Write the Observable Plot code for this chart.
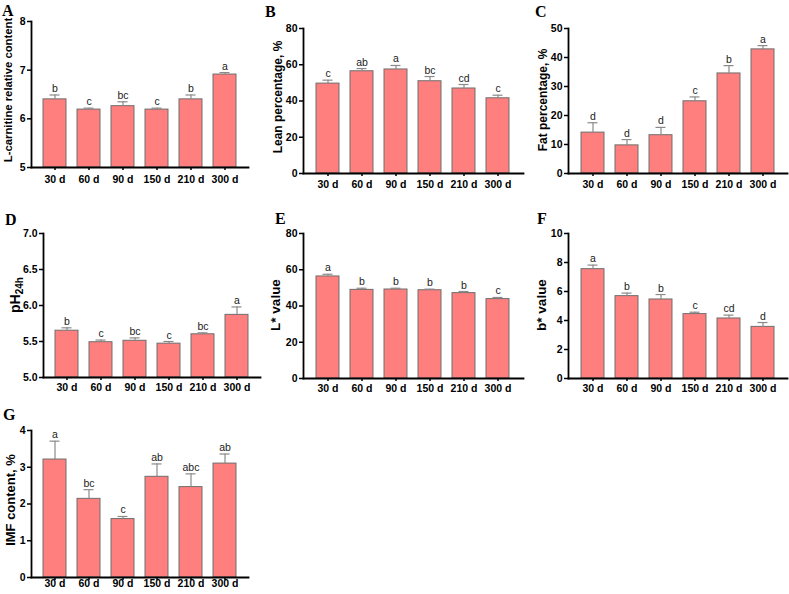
<!DOCTYPE html>
<html><head><meta charset="utf-8">
<script src="https://cdn.jsdelivr.net/npm/d3@7"></script>
<script src="https://cdn.jsdelivr.net/npm/@observablehq/plot@0.6"></script>
<style>
body{margin:0;background:#fff;}
#wrap{position:relative;width:789px;height:594px;overflow:hidden;background:#fff;}
#wrap svg{position:absolute;}
</style></head><body><div id="wrap"></div>
<script>
// ---- data ----
const days = ["30 d", "60 d", "90 d", "150 d", "210 d", "300 d"];

const lcarnitine = [6.40, 6.19, 6.26, 6.19, 6.40, 6.91];
const lcarnitineSE = [0.09, 0.03, 0.09, 0.03, 0.09, 0.04];
const lcarnitineLetters = ["b", "c", "bc", "c", "b", "a"];

const lean = [49.6, 56.4, 57.4, 50.9, 46.9, 41.5];
const leanSE = [1.9, 1.5, 2.2, 2.6, 2.2, 1.7];
const leanLetters = ["c", "ab", "a", "bc", "cd", "c"];

const fat = [14.1, 9.7, 13.2, 24.9, 34.5, 42.8];
const fatSE = [3.4, 2.0, 2.7, 1.5, 2.7, 1.3];
const fatLetters = ["d", "d", "d", "c", "b", "a"];

const ph24 = [5.65, 5.49, 5.51, 5.47, 5.60, 5.87];
const ph24SE = [0.04, 0.03, 0.04, 0.03, 0.02, 0.11];
const ph24Letters = ["b", "c", "bc", "c", "bc", "a"];

const lightness = [56.3, 48.9, 49.1, 48.7, 47.1, 43.8];
const lightnessSE = [1.2, 0.9, 0.7, 0.6, 0.9, 0.9];
const lightnessLetters = ["a", "b", "b", "b", "b", "c"];

const yellowness = [7.54, 5.68, 5.45, 4.44, 4.14, 3.56];
const yellownessSE = [0.28, 0.21, 0.34, 0.13, 0.23, 0.30];
const yellownessLetters = ["a", "b", "b", "c", "cd", "d"];

const imf = [3.21, 2.14, 1.59, 2.74, 2.46, 3.10];
const imfSE = [0.50, 0.25, 0.07, 0.35, 0.36, 0.26];
const imfLetters = ["a", "bc", "c", "ab", "abc", "ab"];

const ticksA = [5, 6, 7, 8];
const ticksB = [0, 20, 40, 60, 80];
const ticksC = [0, 10, 20, 30, 40, 50];
const ticksD = [5.0, 5.5, 6.0, 6.5, 7.0];
const ticksE = [0, 20, 40, 60, 80];
const ticksF = [0, 2, 4, 6, 8, 10];
const ticksG = [0, 1, 2, 3, 4];

// ---- panel configuration (layout) ----
const panels = [
  {tag:"A", values:lcarnitine, se:lcarnitineSE, letters:lcarnitineLetters, domain:[5,8], ticks:ticksA, fmt:d3.format("d"),
   label:"L-carnitine relative content", left:0, top:0, w:260, h:195, ml:31, mr:12, mt:21, mb:28, xpad:5, lx:8, ly:90, lfs:11.3, tx:2, ty:16},
  {tag:"B", values:lean, se:leanSE, letters:leanLetters, domain:[0,80], ticks:ticksB, fmt:d3.format("d"),
   label:"Lean percentage, %", left:260, top:0, w:265, h:195, ml:43, mr:2, mt:28, mb:22, xpad:4, lx:18, ly:97, lfs:12, tx:5, ty:17},
  {tag:"C", values:fat, se:fatSE, letters:fatLetters, domain:[0,50], ticks:ticksC, fmt:d3.format("d"),
   label:"Fat percentage, %", left:520, top:0, w:269, h:195, ml:48, mr:2, mt:28, mb:22, xpad:4, lx:23, ly:100, lfs:12, tx:15, ty:17},
  {tag:"D", values:ph24, se:ph24SE, letters:ph24Letters, domain:[5,7], ticks:ticksD, fmt:d3.format(".1f"),
   label:null, left:0, top:195, w:262, h:205, ml:43, mr:2, mt:38, mb:23, xpad:3, lx:15, ly:100, lfs:14, tx:5, ty:30},
  {tag:"E", values:lightness, se:lightnessSE, letters:lightnessLetters, domain:[0,80], ticks:ticksE, fmt:d3.format("d"),
   label:"L* value", left:260, top:195, w:265, h:205, ml:43, mr:2, mt:38, mb:22, xpad:3, lx:15, ly:110, lfs:13.5, tx:15, ty:29},
  {tag:"F", values:yellowness, se:yellownessSE, letters:yellownessLetters, domain:[0,10], ticks:ticksF, fmt:d3.format("d"),
   label:"b* value", left:520, top:195, w:269, h:205, ml:48, mr:2, mt:38, mb:22, xpad:3, lx:21, ly:110, lfs:13.5, tx:17, ty:29},
  {tag:"G", values:imf, se:imfSE, letters:imfLetters, domain:[0,4], ticks:ticksG, fmt:d3.format("d"),
   label:"IMF content, %", left:0, top:390, w:260, h:204, ml:31, mr:12, mt:40, mb:17, xpad:-1, lx:10, ly:110, lfs:13, tx:3, ty:30}
];

const FONT = "'Liberation Sans', Arial, Helvetica, sans-serif";
const wrap = document.getElementById("wrap");

for (const p of panels) {
  const data = days.map((d, i) => ({day: d, v: p.values[i], e: p.values[i] + p.se[i], l: p.letters[i]}));
  const svg = Plot.plot({
    width: p.w, height: p.h,
    marginLeft: p.ml, marginRight: p.mr, marginTop: p.mt, marginBottom: p.mb,
    style: {background: "none", fontFamily: FONT, color: "#000"},
    x: {domain: days, padding: 0.32, label: null},
    y: {domain: p.domain, label: null},
    marks: [
      Plot.barY(data, {x: "day", y1: p.domain[0], y2: "v", fill: "#FF7F7F", stroke: "#6e6e6e", strokeWidth: 1}),
      Plot.ruleX(data, {x: "day", y1: "v", y2: "e", stroke: "#8a8a8a", strokeWidth: 1.2}),
      Plot.tickY(data, {x: "day", y: "e", stroke: "#8a8a8a", strokeWidth: 1.2, insetLeft: 6.5, insetRight: 6.5}),
      Plot.text(data, {x: "day", y: "e", text: "l", dy: -3, lineAnchor: "bottom", fontSize: 10.5, fill: "#222"}),
      Plot.axisX({tickSize: 3, tickPadding: p.xpad, fontSize: 10.5, fontWeight: "bold", strokeWidth: 1.5, label: null}),
      Plot.axisY({ticks: p.ticks, tickFormat: p.fmt, tickSize: 4, tickPadding: 2, fontSize: 10.5, fontWeight: "bold", strokeWidth: 1.5, label: null}),
      Plot.frame({anchor: "left", strokeWidth: 1.8}),
      Plot.frame({anchor: "bottom", strokeWidth: 1.8})
    ]
  });
  svg.style.left = p.left + "px";
  svg.style.top = p.top + "px";
  const s = d3.select(svg);
  // panel tag
  s.append("text").attr("x", p.tx).attr("y", p.ty)
    .attr("text-anchor", "start")
    .attr("font-family", "'Liberation Serif', 'Times New Roman', serif")
    .attr("font-weight", "bold").attr("font-size", 16).attr("fill", "#000").text(p.tag);
  // y-axis title
  const t = s.append("text")
    .attr("transform", `translate(${p.lx},${p.ly}) rotate(-90)`)
    .attr("text-anchor", "middle").attr("dominant-baseline", "central")
    .attr("font-family", FONT).attr("font-weight", "bold").attr("font-size", p.lfs).attr("fill", "#000");
  if (p.label) {
    t.text(p.label);
  } else {
    t.append("tspan").text("pH");
    t.append("tspan").attr("font-size", 10).attr("dy", 4).text("24h");
  }
  wrap.appendChild(svg);
}
</script>
</body></html>
